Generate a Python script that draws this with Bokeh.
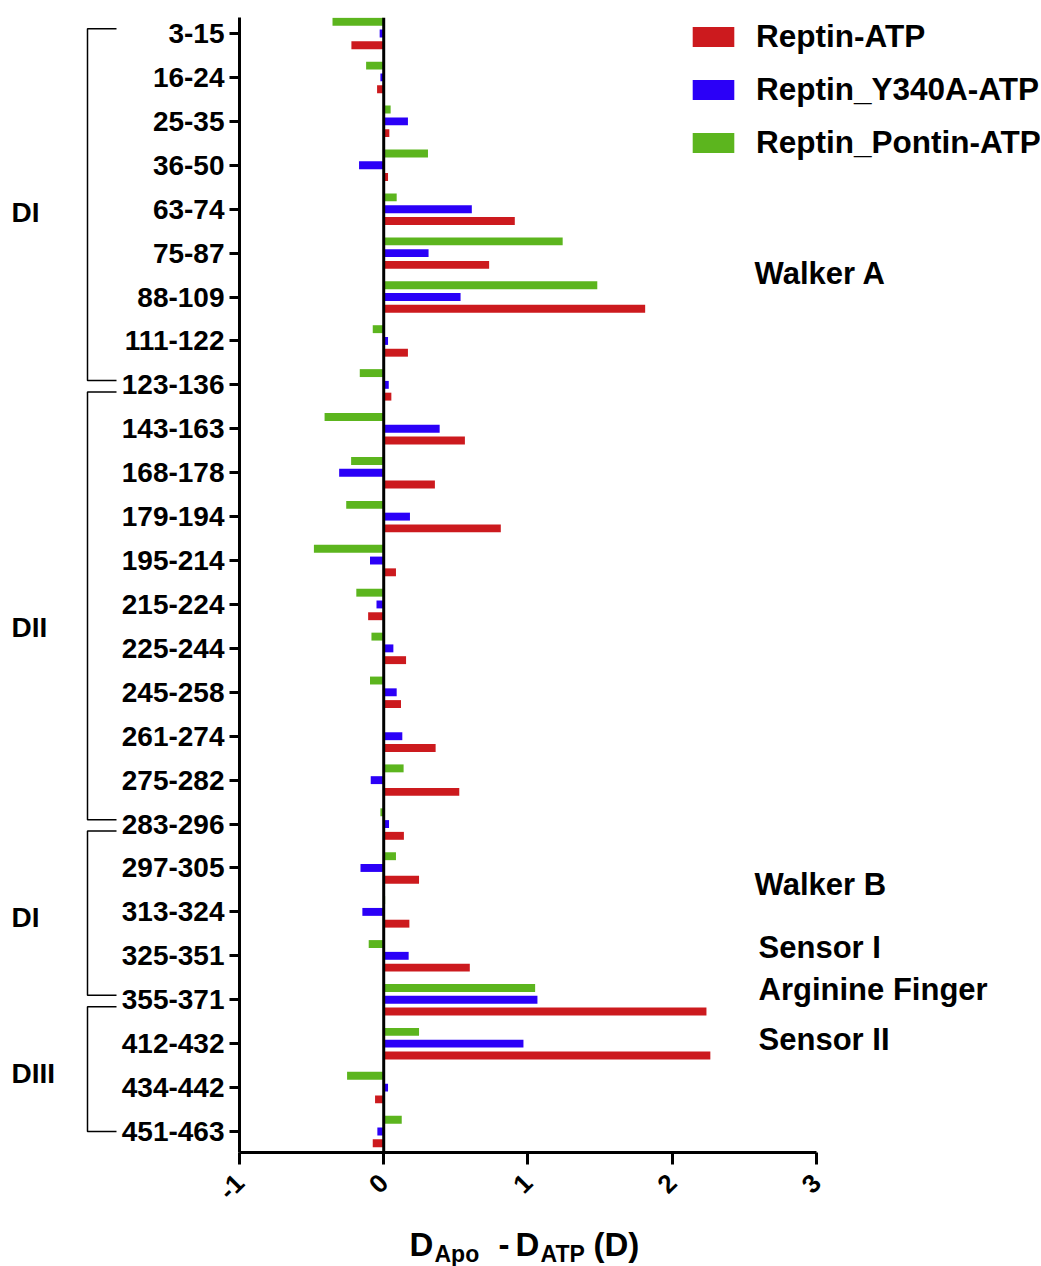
import math
from bokeh.plotting import figure
from bokeh.models import (Range1d, FixedTicker, Span, Legend, LegendItem, ColumnDataSource)
from bokeh.layouts import row, column
from bokeh.transform import dodge
from bokeh.core.properties import value
from bokeh.embed import file_html
from bokeh.resources import INLINE

# ---------------- data ----------------
regions = ["3-15", "16-24", "25-35", "36-50", "63-74", "75-87", "88-109", "111-122",
           "123-136", "143-163", "168-178", "179-194", "195-214", "215-224", "225-244",
           "245-258", "261-274", "275-282", "283-296", "297-305", "313-324", "325-351",
           "355-371", "412-432", "434-442", "451-463"]

reptin_atp = [-0.224, -0.046, 0.039, 0.030, 0.909, 0.731, 1.813, 0.168, 0.053, 0.563,
              0.355, 0.812, 0.085, -0.108, 0.155, 0.120, 0.360, 0.524, 0.140, 0.245,
              0.178, 0.597, 2.238, 2.265, -0.060, -0.076]
reptin_y340a_atp = [-0.028, -0.023, 0.168, -0.171, 0.611, 0.311, 0.533, 0.030, 0.035, 0.388,
                    -0.309, 0.182, -0.095, -0.050, 0.067, 0.090, 0.129, -0.090, 0.037, -0.161,
                    -0.148, 0.173, 1.066, 0.969, 0.030, -0.044]
reptin_pontin_atp = [-0.355, -0.122, 0.048, 0.307, 0.090, 1.241, 1.481, -0.076, -0.166, -0.410,
                     -0.226, -0.260, -0.484, -0.190, -0.085, -0.095, 0.000, 0.138, -0.023, 0.085,
                     0.010, -0.104, 1.050, 0.245, -0.254, 0.125]

series_names = ["Reptin-ATP", "Reptin_Y340A-ATP", "Reptin_Pontin-ATP"]
x_ticks = [-1, 0, 1, 2, 3]
x_tick_labels = ["-1", "0", "1", "2", "3"]

# domains: (name, first region, last region)
domains = [("DI", "3-15", "123-136"), ("DII", "123-136", "283-296"),
           ("DI", "283-296", "355-371"), ("DIII", "355-371", "451-463")]

motifs = ["Walker A", "Walker B", "Sensor I", "Arginine Finger", "Sensor II"]

# ---------------- layout / style ----------------
RED, BLUE, GREEN = "#CC1A1E", "#2B00F7", "#5CB51E"
FONT = "Liberation Sans"
TOTAL_W = 1040
LEFT_W = 118
BORDER_L = 118
MAIN_H = 1226
TITLE_H = 40
TOP = 17
FRAME_BOTTOM = 1152
BOTTOM = MAIN_H - FRAME_BOTTOM
FRAME_L = LEFT_W + BORDER_L
PXU = 144.75  # px per x unit
PX = 43.92    # px per category

idx = list(range(len(regions)))
src = ColumnDataSource(dict(idx=idx, red=reptin_atp, blue=reptin_y340a_atp,
                            green=reptin_pontin_atp))

y_range = Range1d(start=len(regions) - 1 + 21 / PX, end=-16 / PX)

main_w = TOTAL_W - LEFT_W
frame_w = main_w - BORDER_L
p = figure(width=main_w, height=MAIN_H, x_range=Range1d(-1, -1 + frame_w / PXU),
           y_range=y_range, output_backend="svg", toolbar_location=None,
           min_border_left=BORDER_L, min_border_right=0, min_border_top=TOP,
           min_border_bottom=BOTTOM)
p.outline_line_color = None
p.grid.visible = False

bh = 0.18
off = 0.268
r_green = p.hbar(y=dodge("idx", -off), left=0, right="green", height=bh, source=src,
                 fill_color=GREEN, line_color=None)
r_blue = p.hbar(y=dodge("idx", 0), left=0, right="blue", height=bh, source=src,
                fill_color=BLUE, line_color=None)
r_red = p.hbar(y=dodge("idx", off), left=0, right="red", height=bh, source=src,
               fill_color=RED, line_color=None)

p.add_layout(Span(location=0, dimension="height", line_color="black", line_width=3))

# axes
xa = p.xaxis[0]
xa.bounds = (-1, 3)
xa.ticker = FixedTicker(ticks=x_ticks)
xa.major_label_overrides = {t: s for t, s in zip(x_ticks, x_tick_labels)}
xa.major_label_orientation = math.pi / 4
xa.major_label_text_font = FONT
xa.major_label_text_font_style = "bold"
xa.major_label_text_font_size = "26px"
xa.major_label_text_color = "black"
xa.axis_line_width = 3
xa.major_tick_line_width = 3
xa.major_tick_out = 12
xa.major_tick_in = 0
xa.minor_tick_out = 0
xa.minor_tick_in = 0
xa.major_label_standoff = 14

ya = p.yaxis[0]
ya.ticker = FixedTicker(ticks=idx)
ya.major_label_overrides = {i: r for i, r in zip(idx, regions)}
ya.major_label_text_font = FONT
ya.major_label_text_font_style = "bold"
ya.major_label_text_font_size = "28px"
ya.major_label_text_color = "black"
ya.axis_line_width = 3
ya.major_tick_line_width = 3
ya.major_tick_out = 10
ya.major_tick_in = 0
ya.minor_tick_out = 0
ya.minor_tick_in = 0
ya.major_label_standoff = 5

legend = Legend(items=[LegendItem(label=series_names[0], renderers=[r_red]),
                       LegendItem(label=series_names[1], renderers=[r_blue]),
                       LegendItem(label=series_names[2], renderers=[r_green])],
                location=(684 - FRAME_L, 991), glyph_width=52, glyph_height=25,
                label_height=36, spacing=16, padding=0, margin=0, label_standoff=17,
                label_text_font=FONT, label_text_font_style="bold",
                label_text_font_size="31.5px", label_text_color="black",
                border_line_color=None, background_fill_alpha=0)
p.add_layout(legend)

# motif annotations (right side)
motif_y = [5.46, 19.38, 20.81, 21.77, 22.9]
motif_px = [753, 753, 757, 757, 757]
p.text(x=[-1 + (m - FRAME_L) / PXU for m in motif_px], y=motif_y, text=motifs,
       text_font=value(FONT), text_font_style="bold", text_font_size="31px",
       text_baseline="middle", text_align="left", text_color="black")

# ---------------- left panel with domain brackets ----------------
lf = figure(width=LEFT_W, height=MAIN_H, x_range=Range1d(0, LEFT_W), y_range=y_range,
            output_backend="svg", toolbar_location=None,
            min_border_left=0, min_border_right=0, min_border_top=TOP,
            min_border_bottom=BOTTOM)
lf.axis.visible = False
lf.grid.visible = False
lf.outline_line_color = None
lf.title.visible = False

domain_label_y = [4.08, 13.52, 20.13, 23.68]
xs, ys = [], []
for k, (name, a, b) in enumerate(domains):
    ia, ib = regions.index(a), regions.index(b)
    top = ia - 0.11 if k == 0 else ia + 0.16
    bot = ib if k == len(domains) - 1 else ib - 0.1
    xs.append([116, 87, 87, 116])
    ys.append([top, top, bot, bot])
lf.multi_line(xs=xs, ys=ys, line_color="black", line_width=1.5)
lf.text(x=[11] * len(domains), y=domain_label_y, text=[d[0] for d in domains],
        text_font=value(FONT), text_font_style="bold", text_font_size="28px",
        text_baseline="middle", text_align="left", text_color="black")

# ---------------- x-axis title with subscripts ----------------
tf = figure(width=TOTAL_W, height=TITLE_H, x_range=Range1d(0, TOTAL_W),
            y_range=Range1d(TITLE_H, 0), output_backend="svg", toolbar_location=None,
            min_border_left=0, min_border_right=0, min_border_top=0, min_border_bottom=0)
tf.axis.visible = False
tf.grid.visible = False
tf.outline_line_color = None
tf.title.visible = False

title_parts = ["D", "Apo", "-", "D", "ATP", "(D)"]
title_px = [409, 434, 498, 515, 540, 593]
title_mid = [1244, 1253, 1244, 1244, 1253, 1244]
title_size = ["33px", "23px", "33px", "33px", "23px", "33px"]
for t, xp, ym, fs in zip(title_parts, title_px, title_mid, title_size):
    tf.text(x=[xp], y=[ym - MAIN_H], text=[t], text_font=value(FONT),
            text_font_style="bold", text_font_size=fs, text_baseline="middle",
            text_align="left", text_color="black")

layout = column(row(lf, p), tf)
open("out.html", "w").write(file_html(layout, INLINE))
